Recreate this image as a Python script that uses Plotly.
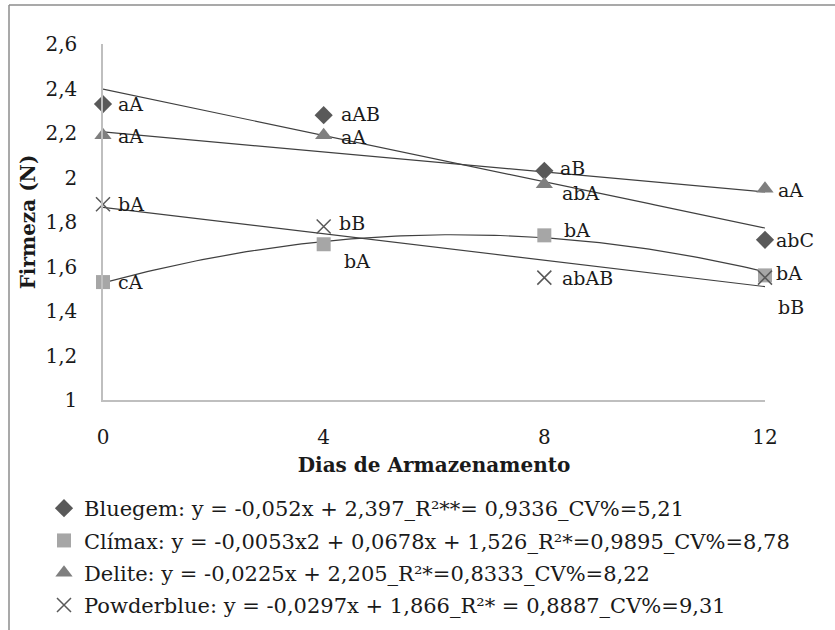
import plotly.graph_objects as go
import numpy as np

# ---- data ----
days = [0, 4, 8, 12]
bluegem = [2.33, 2.28, 2.03, 1.72]
climax = [1.53, 1.70, 1.74, 1.56]
delite = [2.19, 2.19, 1.97, 1.95]
powderblue = [1.88, 1.78, 1.55, 1.55]

bluegem_lbl = ["aA", "aAB", "aB", "abC"]
climax_lbl = ["cA", "bA", "bA", "bA"]
delite_lbl = ["aA", "aA", "abA", "aA"]
powderblue_lbl = ["bA", "bB", "abAB", "bB"]

# trendline coefficients (highest power first), as printed in the legend
bluegem_coef = [-0.052, 2.397]
climax_coef = [-0.0053, 0.0678, 1.526]
delite_coef = [-0.0225, 2.205]
powderblue_coef = [-0.0297, 1.866]

names = [
    "Bluegem: y = -0,052x + 2,397_R²**= 0,9336_CV%=5,21",
    "Clímax: y = -0,0053x2 + 0,0678x + 1,526_R²*=0,9895_CV%=8,78",
    "Delite: y = -0,0225x + 2,205_R²*=0,8333_CV%=8,22",
    "Powderblue: y = -0,0297x + 1,866_R²* = 0,8887_CV%=9,31",
]
y_ticks = [1, 1.2, 1.4, 1.6, 1.8, 2, 2.2, 2.4, 2.6]
y_tick_text = ["1", "1,2", "1,4", "1,6", "1,8", "2", "2,2", "2,4", "2,6"]
x_ticks = [0, 4, 8, 12]

FONT = "'DejaVu Serif', serif"
TXT = "#1a1a1a"

# label offsets in pixels (styling): (dx right, dy down)
bluegem_off = [(13, 0), (15, -1), (14, -3), (9, 0)]
climax_off = [(13, 0), (18, 17), (18, -5), (9, -2)]
delite_off = [(13, 1), (15, 2), (16, 9), (11, 1)]
powderblue_off = [(13, 0), (13, -3), (16, 0), (11, 29)]

fig = go.Figure()

series = [
    (bluegem, bluegem_lbl, bluegem_coef, names[0],
     dict(symbol="diamond", size=14, color="#595959"), bluegem_off),
    (climax, climax_lbl, climax_coef, names[1],
     dict(symbol="square", size=14, color="#a6a6a6"), climax_off),
    (delite, delite_lbl, delite_coef, names[2],
     dict(symbol="triangle-up", size=15, color="#7f7f7f"), delite_off),
    (powderblue, powderblue_lbl, powderblue_coef, names[3],
     dict(symbol="x-thin-open", size=14, color="#595959",
          line=dict(color="#595959", width=1.5)), powderblue_off),
]

xs = np.linspace(min(days), max(days), 121)
for vals, lbls, coef, name, mk, off in series:
    fig.add_trace(go.Scatter(
        x=xs, y=np.polyval(coef, xs), mode="lines",
        line=dict(color="#404040", width=1.2),
        showlegend=False, hoverinfo="skip", cliponaxis=False))

for i, (vals, lbls, coef, name, mk, off) in enumerate(series):
    fig.add_trace(go.Scatter(
        x=days, y=vals, mode="markers", name=name, legendgroup=f"g{i}",
        marker=mk, cliponaxis=False))
    for xv, yv, t, (dx, dy) in zip(days, vals, lbls, off):
        fig.add_annotation(
            x=xv, y=yv, text=t, showarrow=False,
            xanchor="left", yanchor="middle", xshift=dx, yshift=-dy,
            font=dict(family=FONT, size=19, color=TXT))

L, R, T, B = 103, 70, 44, 230
PW = 835 - L - R
PH = 630 - T - B

def px_x(p):
    return (p - L) / PW

def px_y(p):
    return 1 - (p - T) / PH

# outer frame (top and left edges visible)
fig.add_shape(type="line", xref="paper", yref="paper",
              x0=px_x(9), x1=px_x(840), y0=px_y(5), y1=px_y(5),
              line=dict(color="#8c8c8c", width=1.5))
fig.add_shape(type="line", xref="paper", yref="paper",
              x0=px_x(9), x1=px_x(9), y0=px_y(5), y1=px_y(640),
              line=dict(color="#8c8c8c", width=1.5))

fig.update_layout(
    width=835, height=630,
    margin=dict(l=L, r=R, t=T, b=B, autoexpand=False),
    paper_bgcolor="white", plot_bgcolor="white",
    font=dict(family=FONT, size=20, color=TXT),
    showlegend=True,
    legend=dict(
        x=px_x(44), y=px_y(488), xanchor="left", yanchor="top",
        font=dict(family=FONT, size=21, color=TXT),
        bgcolor="rgba(0,0,0,0)", itemwidth=30, tracegroupgap=2,
    ),
    xaxis=dict(
        range=[0, 12], tickvals=x_ticks, ticktext=[str(v) for v in x_ticks],
        showgrid=False, zeroline=False, showline=True,
        linecolor="#bfbfbf", linewidth=1.5, ticks="",
        ticklabelstandoff=18,
        tickfont=dict(family=FONT, size=20, color=TXT),
        title=dict(text="<b>Dias de Armazenamento</b>", standoff=10,
                   font=dict(family=FONT, size=20, color=TXT)),
    ),
    yaxis=dict(
        range=[1, 2.6], tickvals=y_ticks, ticktext=y_tick_text,
        showgrid=False, zeroline=False, showline=True,
        linecolor="#bfbfbf", linewidth=1.5, ticks="",
        ticklabelstandoff=20,
        tickfont=dict(family=FONT, size=20, color=TXT),
        title=dict(text="<b>Firmeza (N)</b>", standoff=4,
                   font=dict(family=FONT, size=20, color=TXT)),
    ),
)

fig.write_html("out.html", config={"displayModeBar": False},
               post_script="document.body.style.margin='0';")
